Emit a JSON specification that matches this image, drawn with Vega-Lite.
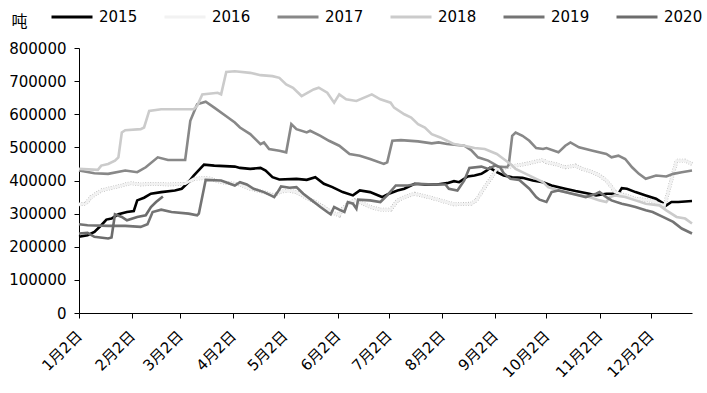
{
  "$schema": "https://vega.github.io/schema/vega-lite/v6.json",
  "width": 613,
  "height": 265,
  "autosize": {"type": "none"},
  "padding": {"left": 79, "top": 48, "right": 15, "bottom": 80},
  "background": "white",
  "config": {
    "view": {"stroke": null},
    "font": "DejaVu Sans",
    "axis": {"grid": false, "domainColor": "#000", "tickColor": "#000", "labelColor": "#000", "titleColor": "#000", "labelFont": "DejaVu Sans, Noto Sans CJK SC", "titleFont": "Noto Sans CJK SC"}
  },
  "datasets": {
    "rows": [
      {"s":"2015","d":"2015-01-02","v":230000},{"s":"2015","d":"2015-01-07","v":235000},{"s":"2015","d":"2015-01-11","v":245000},{"s":"2015","d":"2015-01-15","v":265000},{"s":"2015","d":"2015-01-18","v":282000},{"s":"2015","d":"2015-01-21","v":285000},{"s":"2015","d":"2015-01-25","v":298000},{"s":"2015","d":"2015-01-30","v":305000},{"s":"2015","d":"2015-02-03","v":308000},{"s":"2015","d":"2015-02-05","v":340000},{"s":"2015","d":"2015-02-09","v":348000},{"s":"2015","d":"2015-02-13","v":360000},{"s":"2015","d":"2015-02-19","v":365000},{"s":"2015","d":"2015-02-27","v":370000},{"s":"2015","d":"2015-03-03","v":375000},{"s":"2015","d":"2015-03-07","v":395000},{"s":"2015","d":"2015-03-10","v":415000},{"s":"2015","d":"2015-03-16","v":448000},{"s":"2015","d":"2015-03-22","v":445000},{"s":"2015","d":"2015-04-03","v":442000},{"s":"2015","d":"2015-04-06","v":438000},{"s":"2015","d":"2015-04-12","v":435000},{"s":"2015","d":"2015-04-18","v":438000},{"s":"2015","d":"2015-04-21","v":430000},{"s":"2015","d":"2015-04-25","v":410000},{"s":"2015","d":"2015-04-29","v":403000},{"s":"2015","d":"2015-05-09","v":405000},{"s":"2015","d":"2015-05-15","v":402000},{"s":"2015","d":"2015-05-20","v":410000},{"s":"2015","d":"2015-05-25","v":390000},{"s":"2015","d":"2015-05-30","v":380000},{"s":"2015","d":"2015-06-05","v":365000},{"s":"2015","d":"2015-06-11","v":355000},{"s":"2015","d":"2015-06-15","v":370000},{"s":"2015","d":"2015-06-21","v":365000},{"s":"2015","d":"2015-06-28","v":350000},{"s":"2015","d":"2015-07-02","v":360000},{"s":"2015","d":"2015-07-07","v":370000},{"s":"2015","d":"2015-07-11","v":375000},{"s":"2015","d":"2015-07-17","v":390000},{"s":"2015","d":"2015-07-23","v":388000},{"s":"2015","d":"2015-07-30","v":388000},{"s":"2015","d":"2015-08-05","v":392000},{"s":"2015","d":"2015-08-09","v":398000},{"s":"2015","d":"2015-08-12","v":395000},{"s":"2015","d":"2015-08-17","v":412000},{"s":"2015","d":"2015-08-21","v":415000},{"s":"2015","d":"2015-08-25","v":420000},{"s":"2015","d":"2015-08-28","v":430000},{"s":"2015","d":"2015-08-30","v":438000},{"s":"2015","d":"2015-09-03","v":425000},{"s":"2015","d":"2015-09-07","v":415000},{"s":"2015","d":"2015-09-12","v":410000},{"s":"2015","d":"2015-09-18","v":408000},{"s":"2015","d":"2015-09-24","v":400000},{"s":"2015","d":"2015-09-30","v":395000},{"s":"2015","d":"2015-10-05","v":385000},{"s":"2015","d":"2015-10-13","v":375000},{"s":"2015","d":"2015-10-19","v":368000},{"s":"2015","d":"2015-10-27","v":360000},{"s":"2015","d":"2015-10-31","v":355000},{"s":"2015","d":"2015-11-06","v":360000},{"s":"2015","d":"2015-11-13","v":360000},{"s":"2015","d":"2015-11-15","v":377000},{"s":"2015","d":"2015-11-18","v":375000},{"s":"2015","d":"2015-11-23","v":365000},{"s":"2015","d":"2015-11-29","v":355000},{"s":"2015","d":"2015-12-05","v":345000},{"s":"2015","d":"2015-12-09","v":332000},{"s":"2015","d":"2015-12-11","v":325000},{"s":"2015","d":"2015-12-14","v":335000},{"s":"2015","d":"2015-12-18","v":335000},{"s":"2015","d":"2015-12-26","v":338000},

      {"s":"2016","d":"2015-01-02","v":328000},{"s":"2016","d":"2015-01-06","v":330000},{"s":"2016","d":"2015-01-09","v":350000},{"s":"2016","d":"2015-01-15","v":370000},{"s":"2016","d":"2015-01-19","v":375000},{"s":"2016","d":"2015-01-27","v":385000},{"s":"2016","d":"2015-02-01","v":392000},{"s":"2016","d":"2015-02-07","v":388000},{"s":"2016","d":"2015-02-15","v":390000},{"s":"2016","d":"2015-02-23","v":388000},{"s":"2016","d":"2015-03-05","v":390000},{"s":"2016","d":"2015-03-10","v":405000},{"s":"2016","d":"2015-03-18","v":408000},{"s":"2016","d":"2015-03-26","v":395000},{"s":"2016","d":"2015-04-03","v":390000},{"s":"2016","d":"2015-04-06","v":388000},{"s":"2016","d":"2015-04-12","v":375000},{"s":"2016","d":"2015-04-20","v":365000},{"s":"2016","d":"2015-04-26","v":355000},{"s":"2016","d":"2015-04-29","v":365000},{"s":"2016","d":"2015-05-04","v":370000},{"s":"2016","d":"2015-05-09","v":365000},{"s":"2016","d":"2015-05-14","v":350000},{"s":"2016","d":"2015-05-20","v":335000},{"s":"2016","d":"2015-05-25","v":320000},{"s":"2016","d":"2015-05-29","v":305000},{"s":"2016","d":"2015-06-03","v":295000},{"s":"2016","d":"2015-06-05","v":315000},{"s":"2016","d":"2015-06-08","v":330000},{"s":"2016","d":"2015-06-12","v":340000},{"s":"2016","d":"2015-06-17","v":330000},{"s":"2016","d":"2015-06-21","v":320000},{"s":"2016","d":"2015-06-27","v":312000},{"s":"2016","d":"2015-07-03","v":312000},{"s":"2016","d":"2015-07-07","v":340000},{"s":"2016","d":"2015-07-11","v":350000},{"s":"2016","d":"2015-07-17","v":360000},{"s":"2016","d":"2015-07-25","v":350000},{"s":"2016","d":"2015-08-01","v":340000},{"s":"2016","d":"2015-08-09","v":328000},{"s":"2016","d":"2015-08-19","v":330000},{"s":"2016","d":"2015-08-22","v":340000},{"s":"2016","d":"2015-08-27","v":380000},{"s":"2016","d":"2015-08-31","v":410000},{"s":"2016","d":"2015-09-03","v":435000},{"s":"2016","d":"2015-09-09","v":440000},{"s":"2016","d":"2015-09-14","v":445000},{"s":"2016","d":"2015-09-20","v":450000},{"s":"2016","d":"2015-09-24","v":455000},{"s":"2016","d":"2015-09-30","v":462000},{"s":"2016","d":"2015-10-02","v":455000},{"s":"2016","d":"2015-10-07","v":450000},{"s":"2016","d":"2015-10-13","v":440000},{"s":"2016","d":"2015-10-19","v":445000},{"s":"2016","d":"2015-10-23","v":435000},{"s":"2016","d":"2015-10-29","v":425000},{"s":"2016","d":"2015-11-02","v":415000},{"s":"2016","d":"2015-11-06","v":400000},{"s":"2016","d":"2015-11-09","v":380000},{"s":"2016","d":"2015-11-11","v":365000},{"s":"2016","d":"2015-11-17","v":355000},{"s":"2016","d":"2015-11-23","v":345000},{"s":"2016","d":"2015-12-01","v":340000},{"s":"2016","d":"2015-12-07","v":330000},{"s":"2016","d":"2015-12-10","v":325000},{"s":"2016","d":"2015-12-17","v":460000},{"s":"2016","d":"2015-12-22","v":460000},{"s":"2016","d":"2015-12-26","v":450000},

      {"s":"2017","d":"2015-01-02","v":430000},{"s":"2017","d":"2015-01-11","v":422000},{"s":"2017","d":"2015-01-19","v":420000},{"s":"2017","d":"2015-01-29","v":430000},{"s":"2017","d":"2015-02-05","v":425000},{"s":"2017","d":"2015-02-10","v":440000},{"s":"2017","d":"2015-02-17","v":470000},{"s":"2017","d":"2015-02-23","v":462000},{"s":"2017","d":"2015-03-05","v":462000},{"s":"2017","d":"2015-03-08","v":580000},{"s":"2017","d":"2015-03-12","v":630000},{"s":"2017","d":"2015-03-17","v":638000},{"s":"2017","d":"2015-03-22","v":620000},{"s":"2017","d":"2015-03-30","v":590000},{"s":"2017","d":"2015-04-03","v":575000},{"s":"2017","d":"2015-04-06","v":560000},{"s":"2017","d":"2015-04-12","v":540000},{"s":"2017","d":"2015-04-18","v":510000},{"s":"2017","d":"2015-04-20","v":515000},{"s":"2017","d":"2015-04-23","v":495000},{"s":"2017","d":"2015-04-29","v":490000},{"s":"2017","d":"2015-05-03","v":485000},{"s":"2017","d":"2015-05-06","v":570000},{"s":"2017","d":"2015-05-09","v":555000},{"s":"2017","d":"2015-05-15","v":545000},{"s":"2017","d":"2015-05-17","v":550000},{"s":"2017","d":"2015-05-23","v":535000},{"s":"2017","d":"2015-05-28","v":520000},{"s":"2017","d":"2015-06-03","v":505000},{"s":"2017","d":"2015-06-09","v":480000},{"s":"2017","d":"2015-06-15","v":475000},{"s":"2017","d":"2015-06-21","v":465000},{"s":"2017","d":"2015-06-29","v":450000},{"s":"2017","d":"2015-07-01","v":455000},{"s":"2017","d":"2015-07-04","v":520000},{"s":"2017","d":"2015-07-09","v":522000},{"s":"2017","d":"2015-07-19","v":518000},{"s":"2017","d":"2015-07-27","v":512000},{"s":"2017","d":"2015-07-31","v":515000},{"s":"2017","d":"2015-08-05","v":510000},{"s":"2017","d":"2015-08-15","v":505000},{"s":"2017","d":"2015-08-19","v":492000},{"s":"2017","d":"2015-08-23","v":470000},{"s":"2017","d":"2015-08-29","v":460000},{"s":"2017","d":"2015-09-04","v":442000},{"s":"2017","d":"2015-09-09","v":440000},{"s":"2017","d":"2015-09-10","v":448000},{"s":"2017","d":"2015-09-12","v":535000},{"s":"2017","d":"2015-09-14","v":545000},{"s":"2017","d":"2015-09-18","v":535000},{"s":"2017","d":"2015-09-22","v":520000},{"s":"2017","d":"2015-09-26","v":498000},{"s":"2017","d":"2015-09-30","v":495000},{"s":"2017","d":"2015-10-02","v":498000},{"s":"2017","d":"2015-10-09","v":485000},{"s":"2017","d":"2015-10-13","v":505000},{"s":"2017","d":"2015-10-16","v":515000},{"s":"2017","d":"2015-10-21","v":500000},{"s":"2017","d":"2015-10-29","v":490000},{"s":"2017","d":"2015-11-06","v":480000},{"s":"2017","d":"2015-11-09","v":470000},{"s":"2017","d":"2015-11-13","v":475000},{"s":"2017","d":"2015-11-17","v":465000},{"s":"2017","d":"2015-11-21","v":440000},{"s":"2017","d":"2015-11-25","v":420000},{"s":"2017","d":"2015-11-29","v":405000},{"s":"2017","d":"2015-12-05","v":415000},{"s":"2017","d":"2015-12-11","v":412000},{"s":"2017","d":"2015-12-15","v":420000},{"s":"2017","d":"2015-12-20","v":425000},{"s":"2017","d":"2015-12-26","v":430000},

      {"s":"2018","d":"2015-01-02","v":435000},{"s":"2018","d":"2015-01-13","v":432000},{"s":"2018","d":"2015-01-15","v":445000},{"s":"2018","d":"2015-01-19","v":450000},{"s":"2018","d":"2015-01-23","v":460000},{"s":"2018","d":"2015-01-25","v":470000},{"s":"2018","d":"2015-01-27","v":545000},{"s":"2018","d":"2015-01-29","v":552000},{"s":"2018","d":"2015-02-07","v":555000},{"s":"2018","d":"2015-02-09","v":560000},{"s":"2018","d":"2015-02-12","v":610000},{"s":"2018","d":"2015-02-19","v":615000},{"s":"2018","d":"2015-03-10","v":615000},{"s":"2018","d":"2015-03-12","v":625000},{"s":"2018","d":"2015-03-15","v":660000},{"s":"2018","d":"2015-03-24","v":665000},{"s":"2018","d":"2015-03-26","v":660000},{"s":"2018","d":"2015-03-29","v":728000},{"s":"2018","d":"2015-04-03","v":730000},{"s":"2018","d":"2015-04-12","v":725000},{"s":"2018","d":"2015-04-18","v":718000},{"s":"2018","d":"2015-04-25","v":715000},{"s":"2018","d":"2015-04-29","v":710000},{"s":"2018","d":"2015-05-03","v":690000},{"s":"2018","d":"2015-05-07","v":680000},{"s":"2018","d":"2015-05-12","v":655000},{"s":"2018","d":"2015-05-19","v":675000},{"s":"2018","d":"2015-05-22","v":680000},{"s":"2018","d":"2015-05-27","v":665000},{"s":"2018","d":"2015-05-31","v":635000},{"s":"2018","d":"2015-06-03","v":660000},{"s":"2018","d":"2015-06-07","v":645000},{"s":"2018","d":"2015-06-13","v":640000},{"s":"2018","d":"2015-06-22","v":660000},{"s":"2018","d":"2015-06-27","v":645000},{"s":"2018","d":"2015-07-03","v":635000},{"s":"2018","d":"2015-07-05","v":620000},{"s":"2018","d":"2015-07-11","v":600000},{"s":"2018","d":"2015-07-15","v":590000},{"s":"2018","d":"2015-07-19","v":570000},{"s":"2018","d":"2015-07-23","v":560000},{"s":"2018","d":"2015-07-27","v":540000},{"s":"2018","d":"2015-08-01","v":530000},{"s":"2018","d":"2015-08-05","v":520000},{"s":"2018","d":"2015-08-09","v":510000},{"s":"2018","d":"2015-08-15","v":505000},{"s":"2018","d":"2015-08-21","v":498000},{"s":"2018","d":"2015-08-27","v":495000},{"s":"2018","d":"2015-09-03","v":480000},{"s":"2018","d":"2015-09-07","v":465000},{"s":"2018","d":"2015-09-11","v":450000},{"s":"2018","d":"2015-09-14","v":435000},{"s":"2018","d":"2015-09-20","v":420000},{"s":"2018","d":"2015-09-26","v":405000},{"s":"2018","d":"2015-09-30","v":395000},{"s":"2018","d":"2015-10-03","v":380000},{"s":"2018","d":"2015-10-09","v":370000},{"s":"2018","d":"2015-10-17","v":360000},{"s":"2018","d":"2015-10-27","v":350000},{"s":"2018","d":"2015-11-02","v":340000},{"s":"2018","d":"2015-11-06","v":335000},{"s":"2018","d":"2015-11-08","v":350000},{"s":"2018","d":"2015-11-11","v":355000},{"s":"2018","d":"2015-11-17","v":350000},{"s":"2018","d":"2015-11-23","v":340000},{"s":"2018","d":"2015-11-29","v":330000},{"s":"2018","d":"2015-12-07","v":325000},{"s":"2018","d":"2015-12-11","v":310000},{"s":"2018","d":"2015-12-17","v":290000},{"s":"2018","d":"2015-12-22","v":285000},{"s":"2018","d":"2015-12-26","v":270000},

      {"s":"2019","d":"2015-01-02","v":268000},{"s":"2019","d":"2015-01-07","v":265000},{"s":"2019","d":"2015-01-19","v":263000},{"s":"2019","d":"2015-01-29","v":263000},{"s":"2019","d":"2015-02-07","v":260000},{"s":"2019","d":"2015-02-11","v":268000},{"s":"2019","d":"2015-02-14","v":305000},{"s":"2019","d":"2015-02-19","v":312000},{"s":"2019","d":"2015-02-25","v":305000},{"s":"2019","d":"2015-03-07","v":300000},{"s":"2019","d":"2015-03-12","v":295000},{"s":"2019","d":"2015-03-13","v":300000},{"s":"2019","d":"2015-03-17","v":402000},{"s":"2019","d":"2015-03-26","v":400000},{"s":"2019","d":"2015-04-03","v":385000},{"s":"2019","d":"2015-04-06","v":395000},{"s":"2019","d":"2015-04-10","v":388000},{"s":"2019","d":"2015-04-14","v":375000},{"s":"2019","d":"2015-04-20","v":365000},{"s":"2019","d":"2015-04-24","v":355000},{"s":"2019","d":"2015-04-26","v":350000},{"s":"2019","d":"2015-04-28","v":365000},{"s":"2019","d":"2015-04-30","v":382000},{"s":"2019","d":"2015-05-05","v":378000},{"s":"2019","d":"2015-05-09","v":380000},{"s":"2019","d":"2015-05-13","v":360000},{"s":"2019","d":"2015-05-18","v":340000},{"s":"2019","d":"2015-05-23","v":320000},{"s":"2019","d":"2015-05-27","v":305000},{"s":"2019","d":"2015-05-29","v":298000},{"s":"2019","d":"2015-05-31","v":320000},{"s":"2019","d":"2015-06-03","v":312000},{"s":"2019","d":"2015-06-06","v":305000},{"s":"2019","d":"2015-06-08","v":335000},{"s":"2019","d":"2015-06-11","v":330000},{"s":"2019","d":"2015-06-13","v":315000},{"s":"2019","d":"2015-06-14","v":342000},{"s":"2019","d":"2015-06-21","v":340000},{"s":"2019","d":"2015-06-27","v":335000},{"s":"2019","d":"2015-07-01","v":355000},{"s":"2019","d":"2015-07-06","v":385000},{"s":"2019","d":"2015-07-13","v":385000},{"s":"2019","d":"2015-07-19","v":390000},{"s":"2019","d":"2015-07-28","v":388000},{"s":"2019","d":"2015-08-04","v":388000},{"s":"2019","d":"2015-08-06","v":375000},{"s":"2019","d":"2015-08-11","v":370000},{"s":"2019","d":"2015-08-15","v":400000},{"s":"2019","d":"2015-08-18","v":438000},{"s":"2019","d":"2015-08-25","v":442000},{"s":"2019","d":"2015-08-29","v":435000},{"s":"2019","d":"2015-09-02","v":445000},{"s":"2019","d":"2015-09-05","v":440000},{"s":"2019","d":"2015-09-07","v":422000},{"s":"2019","d":"2015-09-11","v":405000},{"s":"2019","d":"2015-09-16","v":402000},{"s":"2019","d":"2015-09-22","v":375000},{"s":"2019","d":"2015-09-26","v":350000},{"s":"2019","d":"2015-09-28","v":342000},{"s":"2019","d":"2015-10-02","v":335000},{"s":"2019","d":"2015-10-05","v":365000},{"s":"2019","d":"2015-10-09","v":370000},{"s":"2019","d":"2015-10-17","v":360000},{"s":"2019","d":"2015-10-25","v":350000},{"s":"2019","d":"2015-10-31","v":360000},{"s":"2019","d":"2015-11-02","v":365000},{"s":"2019","d":"2015-11-06","v":350000},{"s":"2019","d":"2015-11-09","v":340000},{"s":"2019","d":"2015-11-15","v":330000},{"s":"2019","d":"2015-11-19","v":325000},{"s":"2019","d":"2015-11-23","v":320000},{"s":"2019","d":"2015-11-29","v":310000},{"s":"2019","d":"2015-12-03","v":305000},{"s":"2019","d":"2015-12-09","v":290000},{"s":"2019","d":"2015-12-15","v":275000},{"s":"2019","d":"2015-12-20","v":255000},{"s":"2019","d":"2015-12-26","v":240000},

      {"s":"2020","d":"2015-01-02","v":240000},{"s":"2020","d":"2015-01-07","v":242000},{"s":"2020","d":"2015-01-11","v":230000},{"s":"2020","d":"2015-01-19","v":225000},{"s":"2020","d":"2015-01-21","v":228000},{"s":"2020","d":"2015-01-23","v":298000},{"s":"2020","d":"2015-01-27","v":290000},{"s":"2020","d":"2015-01-30","v":280000},{"s":"2020","d":"2015-02-05","v":290000},{"s":"2020","d":"2015-02-10","v":295000},{"s":"2020","d":"2015-02-13","v":320000},{"s":"2020","d":"2015-02-16","v":335000},{"s":"2020","d":"2015-02-20","v":352000}
    ]
  },
  "data": {"name": "rows", "format": {"parse": {"d": "date:'%Y-%m-%d'"}}},
  "encoding": {
    "x": {
      "field": "d", "type": "temporal",
      "scale": {"domain": [{"year": 2015, "month": 1, "date": 2}, {"year": 2015, "month": 12, "date": 26}], "nice": false},
      "axis": {
        "title": null,
        "values": [
          {"year": 2015, "month": 1, "date": 2}, {"year": 2015, "month": 2, "date": 2}, {"year": 2015, "month": 3, "date": 2},
          {"year": 2015, "month": 4, "date": 2}, {"year": 2015, "month": 5, "date": 2}, {"year": 2015, "month": 6, "date": 2},
          {"year": 2015, "month": 7, "date": 2}, {"year": 2015, "month": 8, "date": 2}, {"year": 2015, "month": 9, "date": 2},
          {"year": 2015, "month": 10, "date": 2}, {"year": 2015, "month": 11, "date": 2}, {"year": 2015, "month": 12, "date": 2}
        ],
        "format": "%-m月%-d日",
        "labelAngle": -45, "labelAlign": "right", "labelBaseline": "middle",
        "labelFontSize": 15, "labelPadding": 15, "tickSize": 5, "labelOverlap": false, "labelFlush": false
      }
    },
    "y": {
      "field": "v", "type": "quantitative",
      "scale": {"domain": [0, 800000], "nice": false},
      "axis": {
        "values": [0, 100000, 200000, 300000, 400000, 500000, 600000, 700000, 800000],
        "format": "d", "labelFontSize": 15, "tickSize": 5, "labelPadding": 8,
        "title": "吨", "titleAngle": 0, "titleX": -60, "titleY": -27, "titleAlign": "center", "titleBaseline": "middle",
        "titleFontSize": 16, "titleFontWeight": "normal"
      }
    }
  },
  "layer": [
    {
      "transform": [{"filter": "datum.s === '2016'"}],
      "mark": {"type": "line", "color": "#b0b0b0", "strokeWidth": 3.8, "strokeDash": [1, 1.5]},
      "encoding": {}
    },
    {
      "mark": {"type": "line", "strokeWidth": 2.6},
      "encoding": {
        "color": {
          "field": "s", "type": "nominal",
          "scale": {"domain": ["2015", "2016", "2017", "2018", "2019", "2020"], "range": ["#000000", "#f2f2f2", "#888888", "#cbcbcb", "#747474", "#6c6c6c"]},
          "legend": {
            "title": null, "orient": "none", "direction": "horizontal", "legendX": -29, "legendY": -53,
            "symbolType": "stroke", "symbolSize": 1681, "symbolStrokeWidth": 3,
            "labelFontSize": 15, "labelFont": "DejaVu Sans", "labelColor": "#000", "labelOffset": 5, "columnPadding": 20
          }
        }
      }
    }
  ]
}
